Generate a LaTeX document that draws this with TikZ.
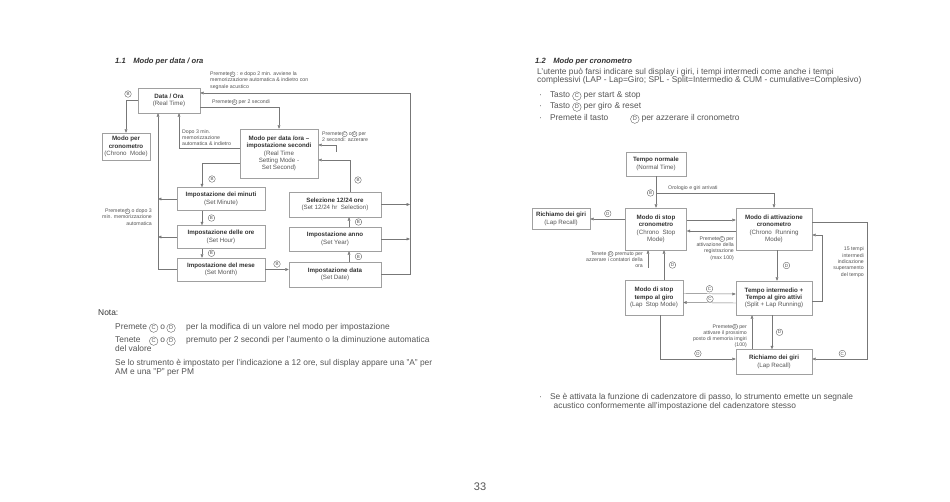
\documentclass[tikz,border=0pt]{standalone}
\usepackage{fontspec}
\setmainfont{Liberation Sans}
\setsansfont{Liberation Sans}
\usetikzlibrary{positioning,arrows.meta,calc}

\definecolor{txtc}{HTML}{555555}
\definecolor{ttlc}{HTML}{333333}
\definecolor{linec}{HTML}{777777}
\definecolor{boxc}{HTML}{A0A0A0}

\tikzset{keycirc/.style={circle, draw=txtc, text=txtc, inner sep=0.45pt, line width=0.35pt}}
\newcommand{\ckey}[1]{\tikz[baseline=(ck.base)]\node[keycirc, font=\fontsize{3.9}{3.9}\selectfont](ck){#1};}
\newcommand{\bkey}[1]{\tikz[baseline=(ck.base)]\node[keycirc, font=\fontsize{5.6}{5.6}\selectfont, minimum size=8.6pt](ck){#1};}
\newcommand{\bt}[1]{\textbf{\textcolor{ttlc}{#1}}}

\begin{document}
\begin{tikzpicture}[
    x=1pt, y=-1pt,
    box/.style={draw=boxc, line width=0.5pt, fill=white, align=center, text=txtc,
                font=\fontsize{6.2}{7.3}\selectfont, inner sep=1pt},
    arr/.style={-{Triangle[length=3.4pt,width=2.8pt]}, draw=linec, line width=0.45pt},
    note/.style={text=txtc, font=\fontsize{5.2}{6.3}\selectfont, inner sep=0pt, align=left},
    body/.style={text=txtc, font=\fontsize{8.4}{10}\selectfont, inner sep=0pt, anchor=base west},
    heading/.style={text=ttlc, font=\fontsize{7.6}{9}\selectfont\bfseries\itshape, inner sep=0pt, anchor=west},
    keylbl/.style={circle, draw=txtc, text=txtc, inner sep=0.3pt, line width=0.35pt,
                   font=\fontsize{4.5}{4.5}\selectfont, minimum size=6.6pt},
]
\fill[white] (0,0) rectangle (950,502);
\useasboundingbox (0,0) rectangle (950,502);

% === 1.1 Modo per data / ora ===
\node[heading] (t11) at (115,62) {1.1\quad Modo per data / ora};

\node[box, minimum width=62pt, minimum height=25pt] (dataora) at (169,100.5) {\bt{Data / Ora}\\(Real Time)};
\node[box, minimum width=48pt, minimum height=27pt] (crono) at (126,146.5) {\bt{Modo per}\\\bt{cronometro}\\(Chrono\ \ Mode)};
\node[box, minimum width=78pt, minimum height=49pt] (setsec) at (279,153.5)
     {\bt{Modo per data /ora –}\\\bt{impostazione secondi}\\(Real Time\\Setting Mode -\\Set Second)};
\node[box, minimum width=88pt, minimum height=23pt] (minuti) at (221,199) {\bt{Impostazione dei minuti}\\(Set Minute)};
\node[box, minimum width=88pt, minimum height=23pt] (ore) at (221,237) {\bt{Impostazione delle ore}\\(Set Hour)};
\node[box, minimum width=88pt, minimum height=23pt] (mese) at (221,269.5) {\bt{Impostazione del mese}\\(Set Month)};
\node[box, minimum width=92pt, minimum height=25pt] (sel) at (335,204.5) {\bt{Selezione 12/24 ore}\\(Set 12/24 hr\ \ Selection)};
\node[box, minimum width=92pt, minimum height=24pt] (anno) at (335,239) {\bt{Impostazione anno}\\(Set Year)};
\node[box, minimum width=92pt, minimum height=25pt] (datad) at (335,274.5) {\bt{Impostazione data}\\(Set Date)};

% notes
\node[note, anchor=south west] (n1) at (210,89.5) {Premete\ckey{A} : e dopo 2 min. avviene la\\memorizzazione automatica \& indietro con\\segnale acustico};
\node[note, anchor=south west] (n2) at (212,105) {Premete\ckey{A} per 2 secondi};
\node[note, anchor=south west] (n3) at (182,146) {Dopo 3 min.\\memorizzazione\\automatica \& indietro};
\node[note, anchor=east, align=right] (n4) at (152,217) {Premete\ckey{A} o dopo 3\\min. memorizzazione\\automatica};
\node[note, anchor=south west] (n5) at (322,142) {Premete\ckey{C} o\ckey{D} per\\2 secondi: azzerare};

% return to Data / Ora (right)
\coordinate (rtop) at (410,93);
\coordinate (rbot) at (410,274.5);
\draw[arr] (datad.east) -- (rbot) -- (rtop) -- (rtop -| dataora.east);
\draw[arr] (sel.east) -- (sel.east -| rtop);
\draw[arr] (anno.east) -- (anno.east -| rtop);

% Data / Ora -> setting / chrono
\coordinate (ps) at (279,107);
\draw[arr] (ps -| dataora.east) -| (setsec.north);
\draw[arr] (dataora.west) -| (crono.north);
\node[keylbl] (kb0) at (128,94) {B};

% return to Data / Ora (left)
\coordinate (lbot) at (158,269.5);
\draw[arr] (mese.west) -- (lbot) -- (lbot |- dataora.south);
\draw[arr] (minuti.west) -- (minuti.west -| lbot);
\draw[arr] (ore.west) -- (ore.west -| lbot);
\coordinate (dl) at (179,148);
\draw[arr] (dl -| setsec.west) -- (dl) -- (dl |- dataora.south);

% B chain
\coordinate (sm) at (202,163);
\draw[arr] (sm -| setsec.west) -- (sm) -- (sm |- minuti.north);
\node[keylbl] (kb1) at (212,179) {B};
\draw[arr] (minuti.south -| sm) -- (ore.north -| sm) node[keylbl, midway, right=6pt] (kb2) {B};
\draw[arr] (ore.south -| sm) -- (mese.north -| sm) node[keylbl, midway, right=6pt] (kb3) {B};
\draw[arr] (mese.east) -- (mese.east -| datad.west) node[keylbl, midway, above=2pt] (kb4) {B};
\coordinate (su) at (349,0);
\draw[arr] (datad.north -| su) -- (anno.south -| su) node[keylbl, midway, right=6pt] (kb5) {B};
\draw[arr] (anno.north -| su) -- (sel.south -| su) node[keylbl, midway, right=6pt] (kb6) {B};
\coordinate (ss) at (350,160);
\draw[arr] (ss |- sel.north) -- (ss) -- (ss -| setsec.east);
\node[keylbl] (kb7) at (358,180) {B};
\coordinate (sl) at (336,145);
\draw[arr] ([yshift=-7pt]sl) -- (sl) -- (sl -| setsec.east);

% Nota
\node[body, text=ttlc] (nota) at (98,316) {Nota:};
\node[body] (nl1) at (115,330) {\makebox[34pt][l]{Premete}\bkey{C}\ o\,\bkey{D}};
\node[body] (nl1b) at (186,330) {per la modifica di un valore nel modo per impostazione};
\node[body] (nl2) at (115,343) {\makebox[34pt][l]{Tenete}\bkey{C}\ o\,\bkey{D}};
\node[body] (nl2b) at (186,343) {premuto per 2 secondi per l'aumento o la diminuzione automatica};
\node[body] (nl3) at (115,351.5) {del valore};
\node[body] (nl4) at (115,366) {Se lo strumento è impostato per l'indicazione a 12 ore, sul display appare una "A" per};
\node[body] (nl5) at (115,374.5) {AM e una "P" per PM};

% === 1.2 Modo per cronometro ===
\node[heading] (t12) at (535,62) {1.2\quad Modo per cronometro};
\node[body] (r1) at (537,74.5) {L'utente può farsi indicare sul display i giri, i tempi intermedi come anche i tempi};
\node[body] (r2) at (537,83) {complessivi (LAP - Lap=Giro; SPL - Split=Intermedio \& CUM - cumulative=Complesivo)};
\node[body] (b1) at (539,98) {·\hspace{8pt}Tasto \bkey{C} per start \& stop};
\node[body] (b2) at (539,109) {·\hspace{8pt}Tasto \bkey{D} per giro \& reset};
\node[body] (b3) at (539,121) {·\hspace{8pt}Premete il tasto\hspace{22pt}\bkey{D} per azzerare il cronometro};

\node[box, minimum width=60pt, minimum height=24pt] (tnorm) at (656,164) {\bt{Tempo normale}\\(Normal Time)};
\node[box, minimum width=61pt, minimum height=42pt] (stopc) at (656,229) {\bt{Modo di stop}\\\bt{cronometro}\\(Chrono\ \ Stop\\Mode)};
\node[box, minimum width=58pt, minimum height=21pt] (lapr) at (561,219) {\bt{Richiamo dei giri}\\(Lap Recall)};
\node[box, minimum width=76pt, minimum height=42pt] (attiv) at (774,229) {\bt{Modo di attivazione}\\\bt{cronometro}\\(Chrono\ \ Running\\Mode)};
\node[box, minimum width=58pt, minimum height=35pt] (lapst) at (654,297.5) {\bt{Modo di stop}\\\bt{tempo al giro}\\(Lap\ \ Stop Mode)};
\node[box, minimum width=76pt, minimum height=34pt] (split) at (774,298) {\bt{Tempo intermedio +}\\\bt{Tempo al giro attivi}\\(Split + Lap Running)};
\node[box, minimum width=76pt, minimum height=25pt] (lapr2) at (774,362) {\bt{Richiamo dei giri}\\(Lap Recall)};

% notes
\node[note, anchor=south west] (n6) at (668,191) {Orologio e giri arrivati};
\node[note, anchor=north east, align=right] (n7) at (734,236) {Premete\ckey{C} per\\attivazione della\\registrazione\\(max 100)};
\node[note, anchor=north east, align=right] (n8) at (643,251) {Tenete \ckey{D} premuto per\\azzerare i contatori della\\ora};
\node[note, anchor=east, align=right] (n9) at (747,336) {Premete\ckey{D} per\\attivare il prossimo\\posto di memoria imgiri\\(100)};
\node[note, anchor=north east, align=right] (n10) at (864,247) {15 tempi\\intermedi\\indicazione\\superamento\\del tempo};

% connectors
\draw[arr] (tnorm.south) -- (stopc.north) node[keylbl, pos=0.53, left=2pt] (kc1) {B};
\coordinate (brn) at (656,193);
\draw[arr] (brn) -| (attiv.north);
\draw[arr] (stopc.west |- lapr.east) -- (lapr.east) node[keylbl, midway, above=2pt] (kc2) {D};
\draw[arr] ([yshift=9pt]stopc.east) -- ([yshift=9pt]attiv.west);
\draw[arr] ([yshift=-2pt]attiv.west) -- ([yshift=-2pt]stopc.east);
\coordinate (tst) at (648,268);
\draw[arr] (tst) -- (tst |- stopc.south);
\coordinate (lsu) at (664,280);
\draw[arr] (lapst.north -| lsu) -- (stopc.south -| lsu) node[keylbl, midway, right=5pt] (kc3) {D};
\draw[arr] ([yshift=4pt]lapst.east) -- ([yshift=4pt]split.west) node[keylbl, midway, above=1.5pt] (kc4) {C};
\draw[arr] ([yshift=-5pt]split.west) -- ([yshift=-5pt]lapst.east);
\node[keylbl] (kc5) at (710,299) {C};
\draw[arr] ([xshift=3pt]attiv.south) -- ([xshift=3pt]split.north) node[keylbl, midway, right=6pt] (kc6) {D};
\draw[arr] ([xshift=-22pt]lapr2.north) -- ([xshift=-22pt]split.south);
\draw[arr] ([xshift=-2pt]split.south) -- ([xshift=-2pt]lapr2.north) node[keylbl, midway, right=4pt] (kc7) {D};
\coordinate (lsd) at (660,359);
\draw[arr] (lapst.south -| lsd) -- (lsd) -- node[keylbl, above=2pt] (kc8) {D} (lsd -| lapr2.west);
\coordinate (rl1) at (822,235);
\coordinate (rl1b) at (822,301);
\draw[arr] (rl1b -| split.east) -- (rl1b) -- (rl1) -- (rl1 -| attiv.east);
\coordinate (rl2) at (867,222);
\coordinate (rl2b) at (867,359);
\draw[arr] (rl2 -| attiv.east) -- (rl2) -- (rl2b) -- node[keylbl, above=2pt, pos=0.45] (kc9) {C} (rl2b -| lapr2.east);

% bottom note
\node[body] (s1) at (539,399) {·\hspace{8pt}Se è attivata la funzione di cadenzatore di passo, lo strumento emette un segnale};
\node[body] (s2) at (553.5,408) {acustico conformemente all'impostazione del cadenzatore stesso};

\node[text=txtc, font=\fontsize{11}{11}\selectfont] (pg) at (480,487) {33};
\end{tikzpicture}
\end{document}
